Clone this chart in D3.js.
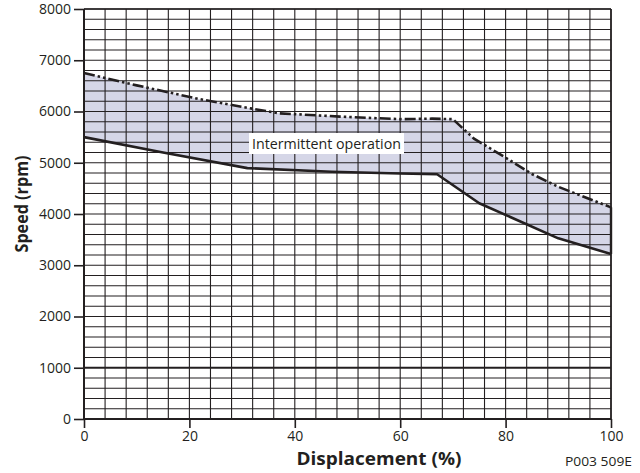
<!DOCTYPE html>
<html>
<head>
<meta charset="utf-8">
<script src="https://cdn.jsdelivr.net/npm/d3@7"></script>
<style>
  html, body { margin: 0; padding: 0; background: #fff; }
  svg { display: block; }
  text { font-family: "Open Sans", "Noto Sans", sans-serif; fill: #231f20; }
</style>
</head>
<body>
<svg id="chart" width="640" height="473"></svg>
<script>
// ---- data ----
const xTicks = [0, 20, 40, 60, 80, 100];
const yTicks = [0, 1000, 2000, 3000, 4000, 5000, 6000, 7000, 8000];
const upperDisplacement = [0, 10, 22, 30, 37, 48.6, 60, 66, 70, 74, 80, 85, 90, 100];
const upperSpeed = [6750, 6510, 6240, 6090, 5965, 5900, 5850, 5860, 5850, 5470, 5100, 4780, 4530, 4130];
const lowerDisplacement = [0, 15, 31, 47, 60, 67, 75, 90, 100];
const lowerSpeed = [5500, 5200, 4895, 4825, 4790, 4775, 4210, 3525, 3220];
const areaLabel = "Intermittent operation";
const xTitle = "Displacement (%)";
const yTitle = "Speed (rpm)";
const codeLabel = "P003 509E";

// ---- layout ----
const svg = d3.select("#chart");
const pLeft = 84, pRight = 611, pTop = 9, pBottom = 419;
const x = d3.scaleLinear().domain([0, 100]).range([pLeft, pRight]);
const y = d3.scaleLinear().domain([0, 8000]).range([pBottom, pTop]);
const ink = "#231f20";

const upper = upperDisplacement.map((d, i) => [d, upperSpeed[i]]);
const lower = lowerDisplacement.map((d, i) => [d, lowerSpeed[i]]);

// filled region
const poly = upper.concat(lower.slice().reverse());
svg.append("path")
  .attr("d", d3.line().x(d => x(d[0])).y(d => y(d[1]))(poly) + "Z")
  .attr("fill", "#d5d6e7");

// grid
const g = svg.append("g");
d3.range(0, 100.001, 4).forEach(v => {
  g.append("line").attr("x1", x(v)).attr("x2", x(v)).attr("y1", pTop).attr("y2", pBottom)
    .attr("stroke", ink).attr("stroke-width", 1.1);
});
d3.range(0, 8000.1, 200).forEach(v => {
  g.append("line").attr("x1", pLeft).attr("x2", pRight).attr("y1", y(v)).attr("y2", y(v))
    .attr("stroke", ink).attr("stroke-width", v === 1000 ? 2.2 : 1.1);
});

// borders
svg.append("line").attr("x1", pLeft).attr("x2", pLeft).attr("y1", pTop).attr("y2", pBottom + 1)
  .attr("stroke", ink).attr("stroke-width", 2);
svg.append("line").attr("x1", pLeft).attr("x2", pRight).attr("y1", pBottom).attr("y2", pBottom)
  .attr("stroke", ink).attr("stroke-width", 2);
svg.append("line").attr("x1", pRight).attr("x2", pRight).attr("y1", pTop).attr("y2", pBottom)
  .attr("stroke", ink).attr("stroke-width", 1.6);
svg.append("line").attr("x1", pLeft).attr("x2", pRight).attr("y1", pTop).attr("y2", pTop)
  .attr("stroke", ink).attr("stroke-width", 1.6);
svg.append("line").attr("x1", pRight).attr("x2", pRight).attr("y1", y(4130)).attr("y2", y(3220))
  .attr("stroke", ink).attr("stroke-width", 2.4);

// curves
const line = d3.line().x(d => x(d[0])).y(d => y(d[1]));
svg.append("path").attr("d", line(lower)).attr("fill", "none")
  .attr("stroke", ink).attr("stroke-width", 2.6).attr("stroke-linejoin", "round");
svg.append("path").attr("d", line(upper)).attr("fill", "none")
  .attr("stroke", ink).attr("stroke-width", 2.6)
  .attr("stroke-dasharray", "11,3,2.5,3,2.5,3");

// y axis
const yAxis = d3.axisLeft(y).tickValues(yTicks).tickSize(10).tickPadding(3).tickFormat(d3.format("d"));
const ya = svg.append("g").attr("transform", `translate(${pLeft},0)`).call(yAxis);
ya.select(".domain").remove();
ya.selectAll(".tick line").attr("stroke", ink).attr("stroke-width", 1.6);
ya.selectAll(".tick text").attr("font-size", 14).attr("fill", ink)
  .attr("font-family", '"Open Sans", sans-serif');

// x axis
const xAxis = d3.axisBottom(x).tickValues(xTicks).tickSize(9).tickPadding(3).tickFormat(d3.format("d"));
const xa = svg.append("g").attr("transform", `translate(0,${pBottom})`).call(xAxis);
xa.select(".domain").remove();
xa.selectAll(".tick line").attr("stroke", ink).attr("stroke-width", 1.6);
xa.selectAll(".tick text").attr("font-size", 14).attr("fill", ink)
  .attr("font-family", '"Open Sans", sans-serif');

// area label
const lx = 326.5, ly = 148.5;
svg.append("rect").attr("x", 249).attr("y", 133).attr("width", 155).attr("height", 21).attr("fill", "#fff");
svg.append("text").attr("x", lx).attr("y", ly).attr("text-anchor", "middle")
  .attr("font-size", 14).attr("textLength", 149).attr("lengthAdjust", "spacingAndGlyphs")
  .text(areaLabel);

// titles
svg.append("text").attr("x", 379).attr("y", 464.5).attr("text-anchor", "middle")
  .attr("font-size", 18).attr("font-weight", "bold")
  .attr("textLength", 165).attr("lengthAdjust", "spacingAndGlyphs").text(xTitle);
svg.append("text").attr("transform", "translate(27.5,204) rotate(-90)").attr("text-anchor", "middle")
  .attr("font-size", 18).attr("font-weight", "bold")
  .attr("textLength", 97).attr("lengthAdjust", "spacingAndGlyphs").text(yTitle);
svg.append("text").attr("x", 598.5).attr("y", 466).attr("text-anchor", "middle")
  .attr("font-size", 13).attr("textLength", 67).attr("lengthAdjust", "spacingAndGlyphs").text(codeLabel);
</script>
</body>
</html>
